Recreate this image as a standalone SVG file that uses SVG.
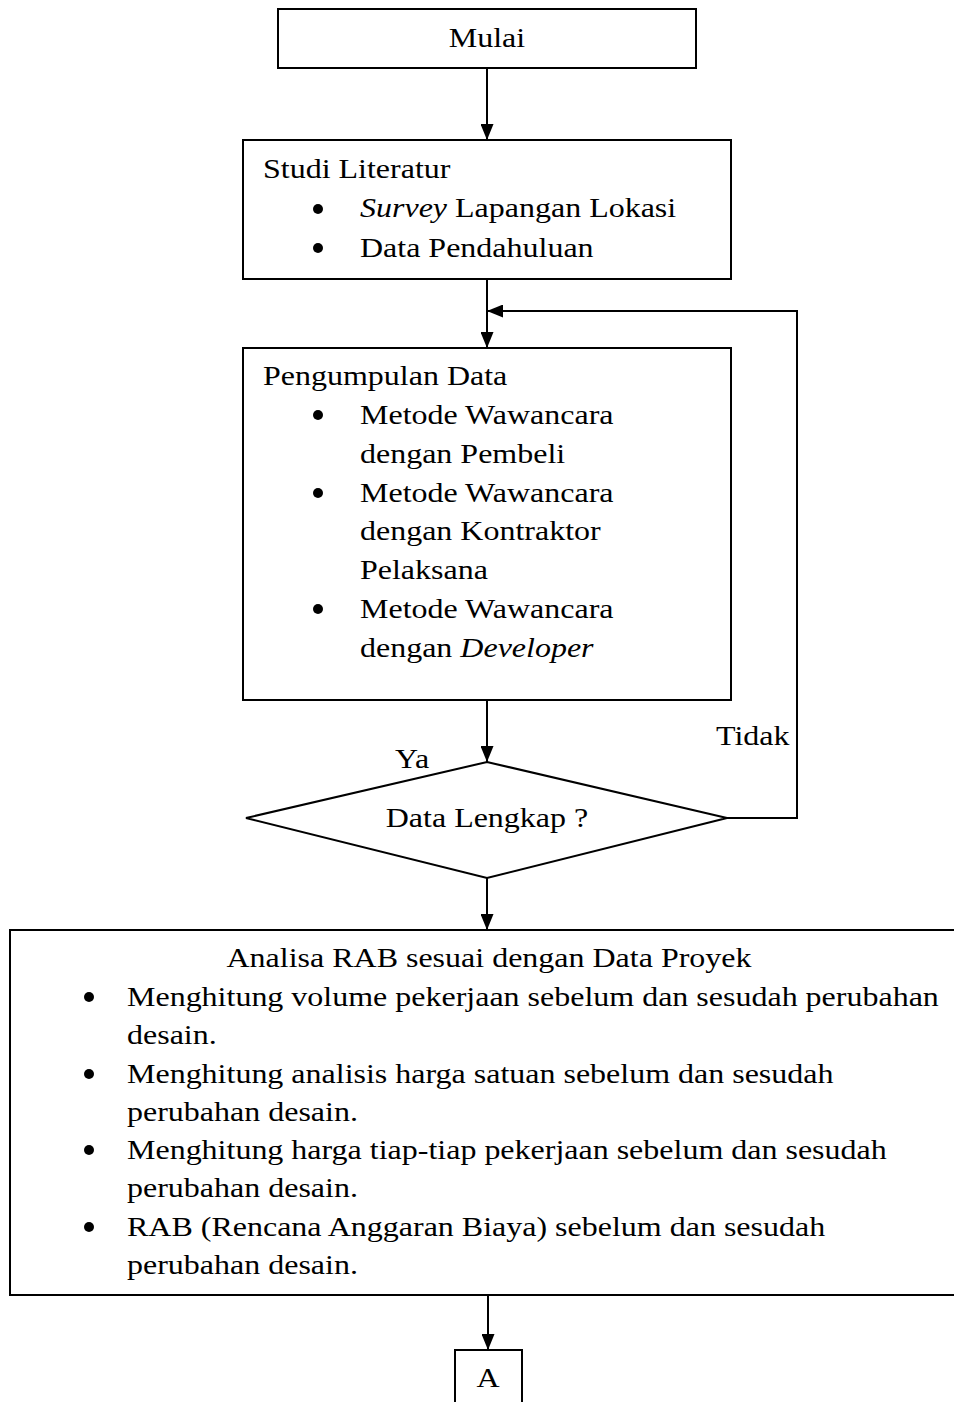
<svg xmlns="http://www.w3.org/2000/svg" width="954" height="1402" viewBox="0 0 954 1402">
<defs>
<marker id="ah" viewBox="0 0 16 13" refX="16" refY="6.5" markerWidth="16" markerHeight="13" markerUnits="userSpaceOnUse" orient="auto">
<path d="M0,0 L16,6.5 L0,13 z" fill="#000"/>
</marker>
<style>
.box{fill:#fff;stroke:#000;stroke-width:2}
.t{font-family:"Liberation Serif","Times New Roman",serif;font-size:27px;fill:#000}
.c{text-anchor:middle}
.i{font-style:italic}
.b{fill:#000}
.ln{fill:none;stroke:#000;stroke-width:2}
</style>
</defs>
<rect width="954" height="1402" fill="#fff"/>

<g id="n-mulai">
<rect class="box" x="278" y="9" width="418" height="59"/>
<text class="t c" transform="matrix(1.185 0 0 1 487 47)">Mulai</text>
</g>

<g id="n-studi">
<rect class="box" x="243" y="140" width="488" height="139"/>
<text class="t" transform="matrix(1.185 0 0 1 263 178)">Studi Literatur</text>
<circle class="b" cx="318" cy="209" r="5"/>
<text class="t" transform="matrix(1.185 0 0 1 360 217)"><tspan class="i">Survey</tspan> Lapangan Lokasi</text>
<circle class="b" cx="318" cy="248" r="5"/>
<text class="t" transform="matrix(1.185 0 0 1 360 257)">Data Pendahuluan</text>
</g>

<g id="n-pengumpulan">
<rect class="box" x="243" y="348" width="488" height="352"/>
<text class="t" transform="matrix(1.185 0 0 1 263 385)">Pengumpulan Data</text>
<circle class="b" cx="318" cy="415" r="5"/>
<text class="t" transform="matrix(1.185 0 0 1 360 424)">Metode Wawancara</text>
<text class="t" transform="matrix(1.185 0 0 1 360 463)">dengan Pembeli</text>
<circle class="b" cx="318" cy="493" r="5"/>
<text class="t" transform="matrix(1.185 0 0 1 360 502)">Metode Wawancara</text>
<text class="t" transform="matrix(1.185 0 0 1 360 540)">dengan Kontraktor</text>
<text class="t" transform="matrix(1.185 0 0 1 360 579)">Pelaksana</text>
<circle class="b" cx="318" cy="609" r="5"/>
<text class="t" transform="matrix(1.185 0 0 1 360 618)">Metode Wawancara</text>
<text class="t" transform="matrix(1.185 0 0 1 360 657)">dengan <tspan class="i">Developer</tspan></text>
</g>

<g id="n-decision">
<polygon class="box" points="487,762 727,818 487,878 246,818"/>
<text class="t c" transform="matrix(1.185 0 0 1 487 827)">Data Lengkap ?</text>
</g>

<g id="n-analisa">
<rect class="box" x="10" y="930" width="960" height="365"/>
<text class="t c" transform="matrix(1.185 0 0 1 489 967)">Analisa RAB sesuai dengan Data Proyek</text>
<circle class="b" cx="89" cy="997" r="5"/>
<text class="t" transform="matrix(1.185 0 0 1 127 1006)">Menghitung volume pekerjaan sebelum dan sesudah perubahan</text>
<text class="t" transform="matrix(1.185 0 0 1 127 1044)">desain.</text>
<circle class="b" cx="89" cy="1074" r="5"/>
<text class="t" transform="matrix(1.185 0 0 1 127 1083)">Menghitung analisis harga satuan sebelum dan sesudah</text>
<text class="t" transform="matrix(1.185 0 0 1 127 1121)">perubahan desain.</text>
<circle class="b" cx="89" cy="1150" r="5"/>
<text class="t" transform="matrix(1.185 0 0 1 127 1159)">Menghitung harga tiap-tiap pekerjaan sebelum dan sesudah</text>
<text class="t" transform="matrix(1.185 0 0 1 127 1197)">perubahan desain.</text>
<circle class="b" cx="89" cy="1227" r="5"/>
<text class="t" transform="matrix(1.185 0 0 1 127 1236)">RAB (Rencana Anggaran Biaya) sebelum dan sesudah</text>
<text class="t" transform="matrix(1.185 0 0 1 127 1274)">perubahan desain.</text>
</g>

<g id="n-a">
<rect class="box" x="455" y="1350" width="67" height="70"/>
<text class="t c" transform="matrix(1.185 0 0 1 488 1387)">A</text>
</g>

<g id="connectors">
<path class="ln" d="M487,68 V140" marker-end="url(#ah)"/>
<path class="ln" d="M487,279 V348" marker-end="url(#ah)"/>
<path class="ln" d="M727,818 H797 V311 H487" marker-end="url(#ah)"/>
<path class="ln" d="M487,700 V762" marker-end="url(#ah)"/>
<path class="ln" d="M487,878 V930" marker-end="url(#ah)"/>
<path class="ln" d="M488,1295 V1350" marker-end="url(#ah)"/>
<text class="t" transform="matrix(1.185 0 0 1 395 768)">Ya</text>
<text class="t" transform="matrix(1.185 0 0 1 716 745)">Tidak</text>
</g>
</svg>
